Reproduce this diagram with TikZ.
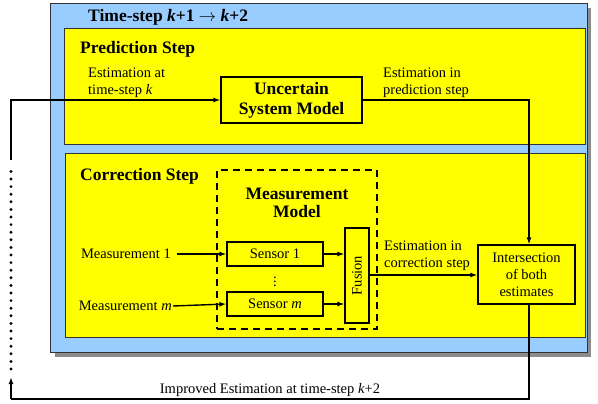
\documentclass[tikz,border=0pt]{standalone}
\usepackage{fontspec}
\setmainfont{Liberation Serif}
\usetikzlibrary{arrows.meta}
\definecolor{skyblue}{HTML}{99CCFF}
\definecolor{yel}{HTML}{FFFF00}
\begin{document}
\begin{tikzpicture}[x=1pt,y=-1pt,
  body/.style={font=\fontsize{14.5}{17}\selectfont, inner sep=0pt, align=left},
  bodyc/.style={font=\fontsize{14.5}{17}\selectfont, inner sep=0pt, align=center},
  head/.style={font=\fontsize{17.5}{18}\selectfont\bfseries, inner sep=0pt, align=center},
  headc/.style={font=\fontsize{17.5}{20}\selectfont\bfseries, inner sep=0pt, align=center},
  panel/.style={draw=black!80, line width=0.9pt, anchor=north west, inner sep=0pt},
  box/.style={draw, fill=yel, line width=1.3pt, inner sep=0pt},
  conn/.style={line width=1.4pt},
  arr/.style={line width=1.4pt, -{Latex[length=7pt,width=5pt]}},
]
\useasboundingbox (0,0) rectangle (598,404);
% outer panel with shadow
\fill[black!45] (55,8) rectangle (591,357);
\node[panel, fill=skyblue, minimum width=537pt, minimum height=349pt] (outer) at (50,3) {};
\node[panel, fill=yel, minimum width=521pt, minimum height=116pt] (pred) at (64,28) {};
\node[panel, fill=yel, minimum width=520pt, minimum height=184pt] (corr) at (65,153) {};
% titles
\node[head, anchor=base west] (title) at (88,22) {Time-step \textit{k}+1 $\rightarrow$ \textit{k}+2};
\node[head, anchor=base west] (predlbl) at (80,54) {Prediction Step};
\node[head, anchor=base west] (corrlbl) at (80,181) {Correction Step};
% prediction content
\node[body, anchor=west] (estk) at (88,83) {Estimation at\\time-step \textit{k}};
\node[box, headc, minimum width=141pt, minimum height=46pt] (unc) at (291.5,100) {Uncertain\\System Model};
\node[body, anchor=west] (estp) at (383,83) {Estimation in\\prediction step};
% measurement model
\node[draw, dash pattern=on 7pt off 5pt, line width=1.4pt, minimum width=160pt, minimum height=159pt, inner sep=0pt] (mm) at (297,249.5) {};
\node[head] (mmlbl) at (297,203) {Measurement\\Model};
\node[box, bodyc, minimum width=96pt, minimum height=24pt] (s1) at (275,254) {Sensor 1};
\node[box, bodyc, minimum width=96pt, minimum height=24pt] (sm) at (275,304) {Sensor \textit{m}};
\node[bodyc] (vd) at (275,279) {$\vdots$};
\node[box, minimum width=24pt, minimum height=95pt] (fus) at (357,275.5) {};
\node[bodyc, rotate=90] (fustxt) at (fus.center) {Fusion};
\node[body, anchor=east] (m1) at (171,254) {Measurement 1};
\node[body, anchor=east] (mm2) at (172,306) {Measurement \textit{m}};
\node[body, anchor=west] (estc) at (384,256) {Estimation in\\correction step};
\node[box, bodyc, minimum width=97pt, minimum height=59pt] (inter) at (526.5,274.5) {Intersection\\of both\\estimates};
\node[bodyc] (impr) at (270,390) {Improved Estimation at time-step \textit{k}+2};
% coordinates
\coordinate (rc) at (529,100);
\coordinate (bc) at (529,399);
\coordinate (bl) at (11,399);
\coordinate (tipup) at (11,377);
\coordinate (dotlo) at (11,369);
\coordinate (dothi) at (11,166);
\coordinate (sollo) at (11,160);
\coordinate (tl) at (11,100);
% connectors
\draw[arr] (m1.east) ++(6,0) -- (s1.west);
\draw[arr] (mm2.east) ++(1,0) -- (sm.west);
\draw[arr] (s1.east) -- (s1.east -| fus.west);
\draw[arr] (sm.east) -- (sm.east -| fus.west);
\draw[arr] (fus.east |- 0,275) -- (inter.west |- 0,275);
\draw[arr] (unc.east |- rc) -- (rc) -- (rc |- inter.north);
\draw[conn] (rc |- inter.south) -- (bc) -- (bl);
\draw[arr] (bl) -- (tipup);
\draw[line width=3.2pt, line cap=round, dash pattern=on 0pt off 7.6pt] (dotlo) -- (dothi);
\draw[arr] (sollo) -- (tl) -- (unc.west |- tl);
\end{tikzpicture}
\end{document}
